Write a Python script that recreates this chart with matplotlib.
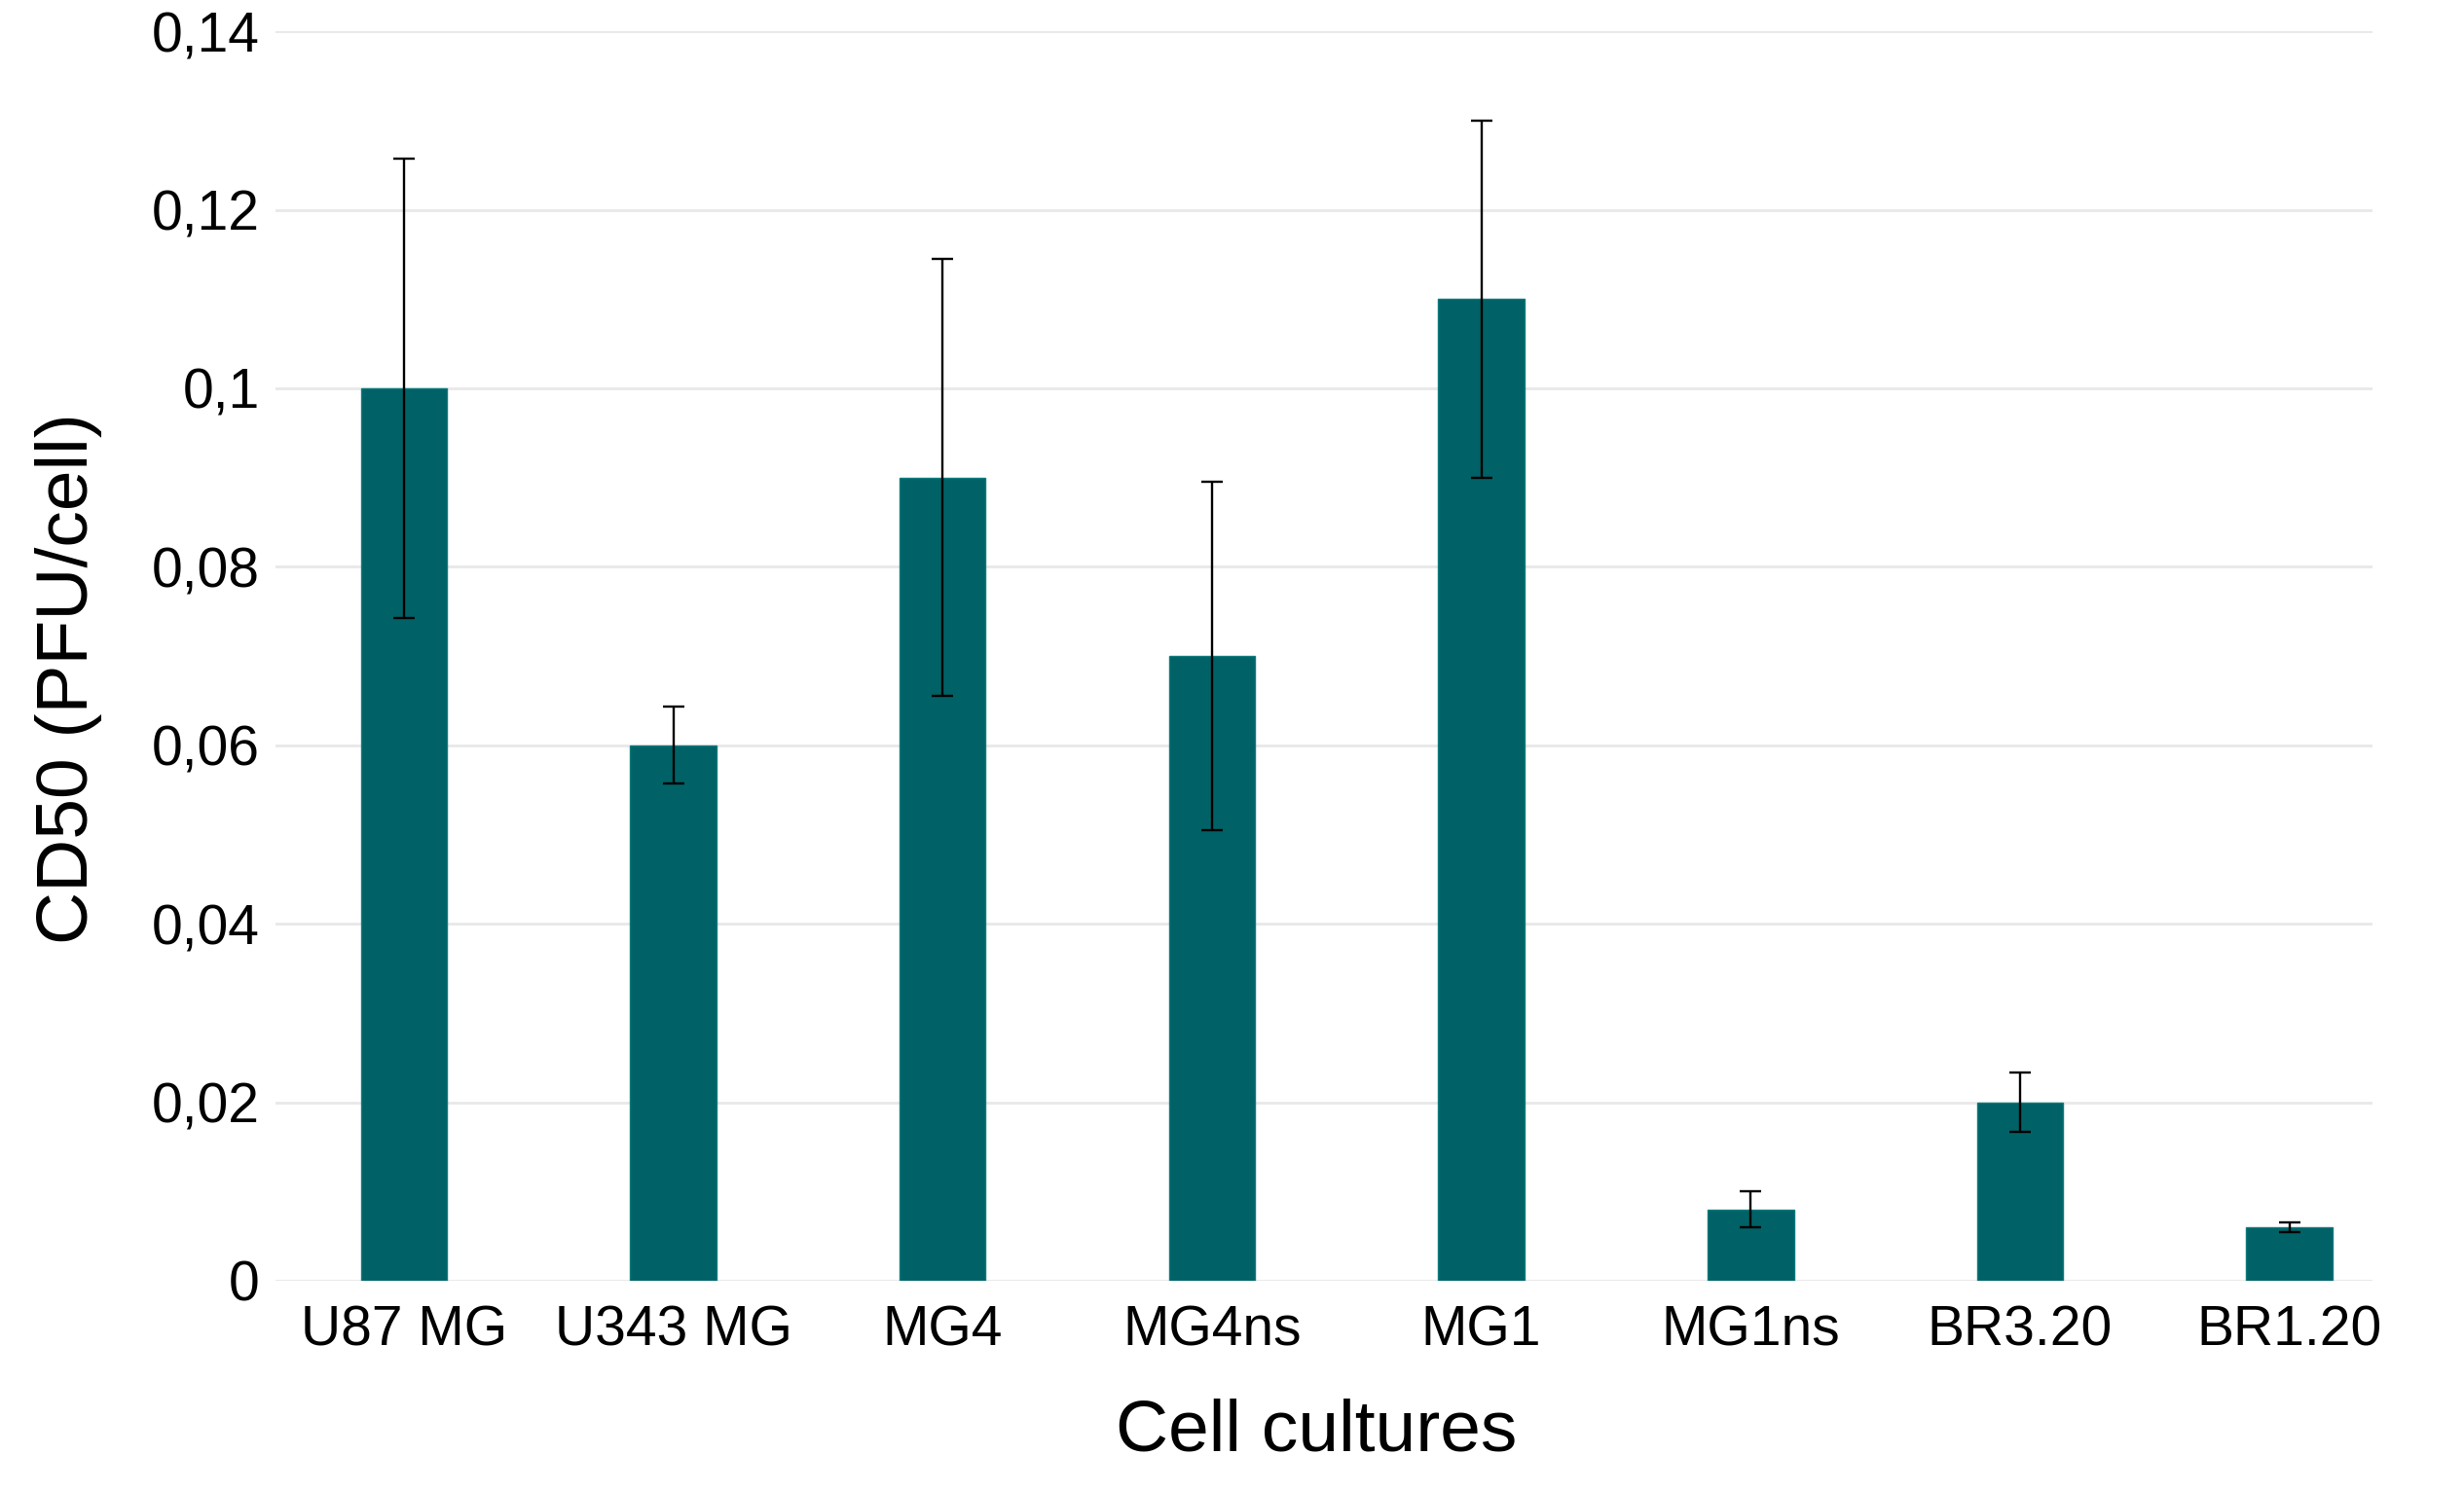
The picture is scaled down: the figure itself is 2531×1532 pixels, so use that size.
import matplotlib.pyplot as plt
import numpy as np

cultures = ["U87 MG", "U343 MG", "MG4", "MG4ns", "MG1", "MG1ns", "BR3.20", "BR1.20"]
cd50 = [0.100, 0.060, 0.090, 0.070, 0.110, 0.008, 0.020, 0.006]
cd50_err = [0.0257, 0.0043, 0.0245, 0.0195, 0.020, 0.0020, 0.0033, 0.0005]
yticks = [0, 0.02, 0.04, 0.06, 0.08, 0.10, 0.12, 0.14]
ytick_labels = ["0", "0,02", "0,04", "0,06", "0,08", "0,1", "0,12", "0,14"]

plt.rcParams['font.family'] = ['Liberation Sans', 'DejaVu Sans']

fig = plt.figure(figsize=(25.31, 15.32), dpi=100)
ax = fig.add_axes([0.112, 0.141, 0.851, 0.838])

index = np.arange(len(cultures))
ax.bar(index, cd50, 0.32, color="#006266", edgecolor="#0d7a7c", linewidth=1.0, zorder=3)
ax.errorbar(index, cd50, yerr=cd50_err, fmt="none", ecolor="black",
            elinewidth=1.7, capsize=8, capthick=1.7, zorder=4)

ax.set_xlim(-0.475, 7.31)
ax.set_ylim(0, 0.14)
ax.set_yticks(yticks)
ax.set_yticklabels(ytick_labels, fontsize=41)
ax.set_xticks(index)
ax.set_xticklabels(cultures, fontsize=41)
ax.tick_params(axis="y", length=0, pad=12)
ax.tick_params(axis="x", length=0, pad=18)
ax.grid(axis="y", color="#e8e8e8", linewidth=2, zorder=0)
ax.grid(axis="x", visible=False)
for s in ax.spines.values():
    s.set_visible(False)

ax.set_ylabel("CD50 (PFU/cell)", fontsize=54)
ax.yaxis.set_label_coords(-0.083, 0.482)
ax.set_xlabel("Cell cultures", fontsize=54)
ax.xaxis.set_label_coords(0.496, -0.094)

fig.savefig("out.png", dpi=100)
